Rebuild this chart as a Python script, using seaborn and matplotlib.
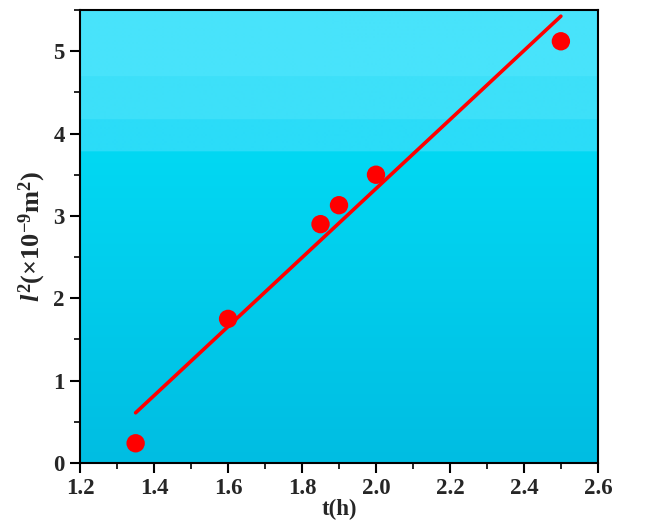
import numpy as np
import pandas as pd
import seaborn as sns
import matplotlib
matplotlib.use("Agg")
import matplotlib.pyplot as plt
from matplotlib.ticker import MultipleLocator, AutoMinorLocator
from matplotlib.colors import to_rgb

# Growth data: time (h) vs squared length (x1e-9 m^2)
t_hours = [1.35, 1.60, 1.85, 1.90, 2.00, 2.50]
l_squared = [0.24, 1.75, 2.90, 3.13, 3.50, 5.12]

df = pd.DataFrame({"t": t_hours, "l2": l_squared})

sns.set_theme(style="ticks")
plt.rcParams["font.family"] = ["Liberation Serif", "DejaVu Serif"]
plt.rcParams["mathtext.fontset"] = "custom"
plt.rcParams["mathtext.rm"] = "Liberation Serif:bold"
plt.rcParams["mathtext.it"] = "Liberation Serif:italic:bold"
plt.rcParams["mathtext.bf"] = "Liberation Serif:bold"

fig = plt.figure(figsize=(6.68, 5.25), dpi=100)
ax = fig.add_axes([0.12, 0.118, 0.775, 0.863])

# Banded cyan backdrop, lighter toward the top
rows = 453
bg = np.zeros((rows, 1, 3))
top1, top2, top3 = to_rgb("#48E3FB"), to_rgb("#3DE0F9"), to_rgb("#2BDCF8")
g_start, g_end = np.array(to_rgb("#02D8F3")), np.array(to_rgb("#00BDE2"))
b1, b2, b3 = 67, 110, 142
for r in range(rows):
    if r < b1:
        bg[r, 0] = top1
    elif r < b2:
        bg[r, 0] = top2
    elif r < b3:
        bg[r, 0] = top3
    else:
        f = (r - b3) / (rows - b3)
        bg[r, 0] = g_start * (1 - f) + g_end * f
ax.imshow(bg, extent=[0, 1, 0, 1], transform=ax.transAxes, aspect="auto",
          zorder=0, interpolation="bilinear")

sns.regplot(data=df, x="t", y="l2", ax=ax, ci=None, truncate=True,
            scatter_kws=dict(s=175, color="#FF0000", edgecolor="none",
                             alpha=1, zorder=3),
            line_kws=dict(color="#FF0000", linewidth=2.6, zorder=2))

ax.set_xlim(1.2, 2.6)
ax.set_ylim(0, 5.5)
ax.yaxis.set_major_locator(MultipleLocator(1))
ax.yaxis.set_minor_locator(AutoMinorLocator(2))
xt = np.arange(1.2, 2.61, 0.2)
ax.set_xticks(xt)
ax.set_xticklabels([f"{v:.1f}" for v in xt])
ax.xaxis.set_minor_locator(AutoMinorLocator(2))

ax.tick_params(which="major", direction="out", length=7, width=1.5,
               labelsize=16.5, color="black", pad=4)
ax.tick_params(which="minor", direction="out", length=4, width=1.2, color="black")
for lab in ax.get_xticklabels() + ax.get_yticklabels():
    lab.set_fontweight("bold")

for sp in ax.spines.values():
    sp.set_linewidth(1.5)
    sp.set_color("black")

ax.set_xlabel("t(h)", fontsize=16.5, fontweight="bold", labelpad=0)
ax.set_ylabel(r"$\mathit{l}^{2}$(×10$^{-9}$m$^{2}$)", fontsize=19,
              fontweight="bold", labelpad=4)

fig.savefig("out.png", dpi=100)
